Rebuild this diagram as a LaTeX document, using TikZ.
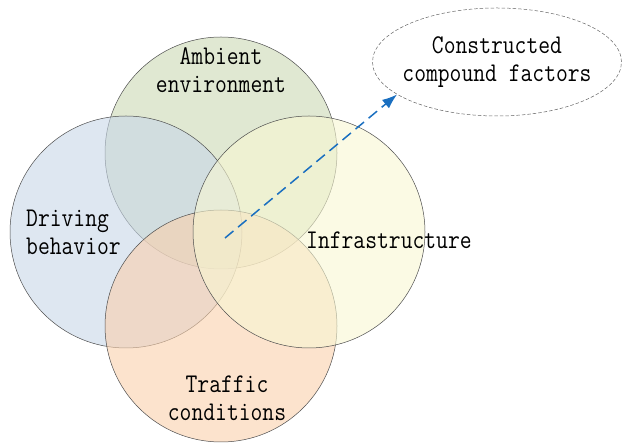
\documentclass[tikz,border=0pt]{standalone}
\usepackage{fontspec}
\newfontfamily\vennfont[FakeStretch=0.85]{Latin Modern Mono}
\usetikzlibrary{positioning,shapes.geometric,arrows.meta}

\definecolor{ambgreen}{RGB}{203,217,180}
\definecolor{drvblue}{RGB}{200,215,232}
\definecolor{infyellow}{RGB}{248,247,210}
\definecolor{trfpeach}{RGB}{250,208,172}
\definecolor{flowblue}{RGB}{26,111,192}

\begin{document}
\begin{tikzpicture}[x=1pt, y=-1pt]
\tikzset{
    venn/.style= {circle, draw=black!70, line width=0.5pt, fill opacity=0.6, minimum size=232pt, inner sep=0pt},
    vlabel/.style= {font=\vennfont\fontsize{27}{28}\selectfont, inner sep=0pt},
    result/.style= {ellipse, draw=black!60, dash pattern=on 3.5pt off 2pt, line width=0.5pt, minimum width=249pt, minimum height=108pt, inner xsep=-9pt, inner ysep=0pt, align=center, font=\vennfont\fontsize{27}{28}\selectfont},
    flow/.style= {-{Latex[length=15pt,width=11pt]}, flowblue, line width=1.5pt, dash pattern=on 11pt off 6pt},
}
\useasboundingbox (0,0) rectangle (624,443);

\node[venn, fill=ambgreen] (amb) at (221,153) {};
\node[venn, fill=drvblue] (drv) at (126,232) {};
\node[venn, fill=trfpeach] (trf) at (221,326) {};
\node[venn, fill=infyellow] (inf) at (309,232) {};

\node[vlabel, align=center] (ambtxt) at (221,70) {Ambient\\environment};
\node[vlabel, align=left, anchor=west] (drvtxt) at (26,232) {Driving\\behavior};
\node[vlabel, anchor=west] (inftxt) at (306,240) {Infrastructure};
\node[vlabel, align=center] (trftxt) at (227,398) {Traffic\\conditions};

\node[result] (res) at (497,62) {Constructed\\compound factors};

\coordinate (ctr) at (225,238);
\draw[flow] (ctr) -- (res.198);
\end{tikzpicture}
\end{document}
